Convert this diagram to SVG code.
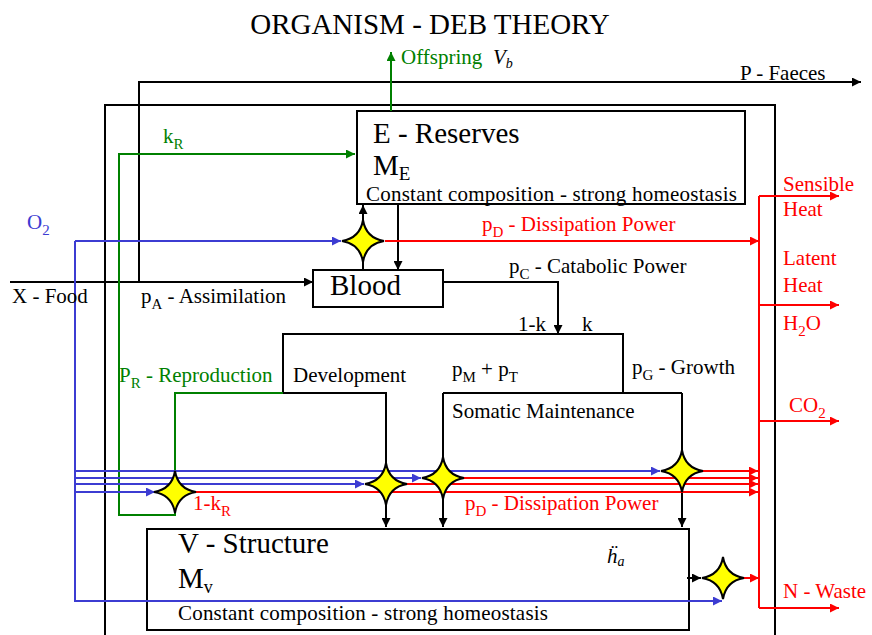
<svg xmlns="http://www.w3.org/2000/svg" width="872" height="635" viewBox="0 0 872 635">
<style>
text { font-family: "Liberation Serif", "Times New Roman", serif; font-size: 21px; fill: #000; }
.big { font-size: 29px; }
.red { fill: #ff0000; }
.grn { fill: #008000; }
.blu { fill: #3c3cd2; }
.box { fill: #fff; stroke: #000; stroke-width: 2; }
.k { fill: none; stroke: #000; stroke-width: 2; }
.r { fill: none; stroke: #ff0000; stroke-width: 2; }
.g { fill: none; stroke: #008000; stroke-width: 2; }
.b { fill: none; stroke: #3c3cd2; stroke-width: 2; }
.ak { marker-end: url(#ak); }
.ar { marker-end: url(#ar); }
.ag { marker-end: url(#ag); }
.ab { marker-end: url(#ab); }
</style>
<defs>
<marker id="ak" viewBox="0 0 10 10" refX="10" refY="5" markerWidth="11" markerHeight="9" markerUnits="userSpaceOnUse" orient="auto"><path d="M0,0 L10,5 L0,10 Z" fill="#000"/></marker>
<marker id="ar" viewBox="0 0 10 10" refX="10" refY="5" markerWidth="11" markerHeight="9" markerUnits="userSpaceOnUse" orient="auto"><path d="M0,0 L10,5 L0,10 Z" fill="#ff0000"/></marker>
<marker id="ag" viewBox="0 0 10 10" refX="10" refY="5" markerWidth="11" markerHeight="9" markerUnits="userSpaceOnUse" orient="auto"><path d="M0,0 L10,5 L0,10 Z" fill="#008000"/></marker>
<marker id="ab" viewBox="0 0 10 10" refX="10" refY="5" markerWidth="11" markerHeight="9" markerUnits="userSpaceOnUse" orient="auto"><path d="M0,0 L10,5 L0,10 Z" fill="#3c3cd2"/></marker>
<path id="star" d="M0,-21 Q3,-3 21,0 Q3,3 0,21 Q-3,3 -21,0 Q-3,-3 0,-21 Z" fill="#ffff00" stroke="#000" stroke-width="2"/>
</defs>
<rect width="872" height="635" fill="#fff"/>

<g id="title"><text class="big" x="430" y="34" text-anchor="middle">ORGANISM - DEB THEORY</text></g>

<g id="organism"><path class="k" d="M105,640 V105 H775 V640"/></g>

<g id="reserves">
<rect class="box" x="357" y="111" width="388" height="93"/>
<text class="big" x="373" y="143">E - Reserves</text>
<text class="big" x="373" y="175">M<tspan font-size="19" dy="5">E</tspan></text>
<text x="366" y="201" font-size="22" textLength="371" lengthAdjust="spacing">Constant composition - strong homeostasis</text>
</g>

<g id="blood">
<rect class="box" x="313" y="270" width="130" height="37"/>
<text class="big" x="330" y="295" font-size="28">Blood</text>
</g>

<g id="structure">
<rect class="box" x="147" y="529" width="542" height="101"/>
<text class="big" x="178" y="553">V - Structure</text>
<text class="big" x="178" y="588">M<tspan font-size="18" dy="5">v</tspan></text>
<text x="178" y="620" font-size="22" textLength="370" lengthAdjust="spacing">Constant composition - strong homeostasis</text>
<text x="607" y="563" font-style="italic">ḧ<tspan font-size="14" dy="3">a</tspan></text>
</g>

<g id="connectors">
<path class="k ak" d="M139,282 V82 H861"/>
<path class="k ak" d="M10,282 H313"/>
<path class="k ak" d="M398,204 V270"/>
<path class="k ak" d="M363,270 V205"/>
<path class="k ak" d="M443,282 H558 V334"/>
<path class="k" d="M283,393 V334 H623 V393"/>
<path class="k ak" d="M283,393 H386 V527"/>
<path class="k" d="M443,393 H682"/>
<path class="k ak" d="M443,393 V527"/>
<path class="k ak" d="M682,393 V527"/>
<path class="k ak" d="M687,578 H701"/>

<path class="g ag" d="M283,393 H175 V515 H119 V154 H355"/>
<path class="g ag" d="M391,111 V52"/>

<path class="b ab" d="M75,241 H341"/>
<path class="b ab" d="M75,241 V601 H722"/>
<path class="b ab" d="M75,471 H660"/>
<path class="b ab" d="M75,478 H421"/>
<path class="b ab" d="M75,484 H364"/>
<path class="b ab" d="M75,492 H155"/>

<path class="r ar" d="M385,241 H759"/>
<path class="r ar" d="M702,471 H758"/>
<path class="r ar" d="M463,478 H758"/>
<path class="r ar" d="M406,484 H758"/>
<path class="r ar" d="M196,492 H758"/>
<path class="r ar" d="M744,578 H759"/>
<path class="r" d="M759,196 V608"/>
<path class="r ar" d="M759,196 H839"/>
<path class="r ar" d="M759,305 H839"/>
<path class="r ar" d="M759,421 H839"/>
<path class="r ar" d="M759,608 H839"/>
</g>

<g id="stars">
<use href="#star" x="363" y="241"/>
<use href="#star" x="175" y="492"/>
<use href="#star" x="386" y="484"/>
<use href="#star" x="443" y="478"/>
<use href="#star" x="682" y="471"/>
<use href="#star" x="723" y="578"/>
</g>

<g id="labels">
<text class="grn" x="401" y="64">Offspring</text>
<text x="493" y="64" font-style="italic">V<tspan font-size="14" dy="4">b</tspan></text>
<text x="740" y="80">P - Faeces</text>
<text class="grn" x="163" y="143">k<tspan font-size="15" dy="6">R</tspan></text>
<text class="blu" x="27" y="229">O<tspan font-size="15" dy="6">2</tspan></text>
<text x="12" y="303">X - Food</text>
<text x="141" y="303">p<tspan font-size="15" dy="6">A</tspan><tspan dy="-6"> - Assimilation</tspan></text>
<text class="red" x="482" y="231">p<tspan font-size="15" dy="6">D</tspan><tspan dy="-6"> - Dissipation Power</tspan></text>
<text x="509" y="273">p<tspan font-size="15" dy="6">C</tspan><tspan dy="-6"> - Catabolic Power</tspan></text>
<text x="518" y="331">1-k</text>
<text x="582" y="331">k</text>
<text class="grn" x="119" y="382">P<tspan font-size="15" dy="6">R</tspan><tspan dy="-6"> - Reproduction</tspan></text>
<text x="293" y="382">Development</text>
<text x="452" y="376">p<tspan font-size="15" dy="6">M</tspan><tspan dy="-6"> + p</tspan><tspan font-size="15" dy="6">T</tspan></text>
<text x="632" y="374">p<tspan font-size="15" dy="6">G</tspan><tspan dy="-6"> - Growth</tspan></text>
<text x="452" y="418">Somatic Maintenance</text>
<text class="red" x="193" y="510">1-k<tspan font-size="15" dy="6">R</tspan></text>
<text class="red" x="465" y="510">p<tspan font-size="15" dy="6">D</tspan><tspan dy="-6"> - Dissipation Power</tspan></text>
<text class="red" x="783" y="191">Sensible</text>
<text class="red" x="783" y="216">Heat</text>
<text class="red" x="783" y="265">Latent</text>
<text class="red" x="783" y="292">Heat</text>
<text class="red" x="783" y="330">H<tspan font-size="15" dy="6">2</tspan><tspan dy="-6">O</tspan></text>
<text class="red" x="789" y="412">CO<tspan font-size="15" dy="6">2</tspan></text>
<text class="red" x="783" y="598">N - Waste</text>
</g>
</svg>
